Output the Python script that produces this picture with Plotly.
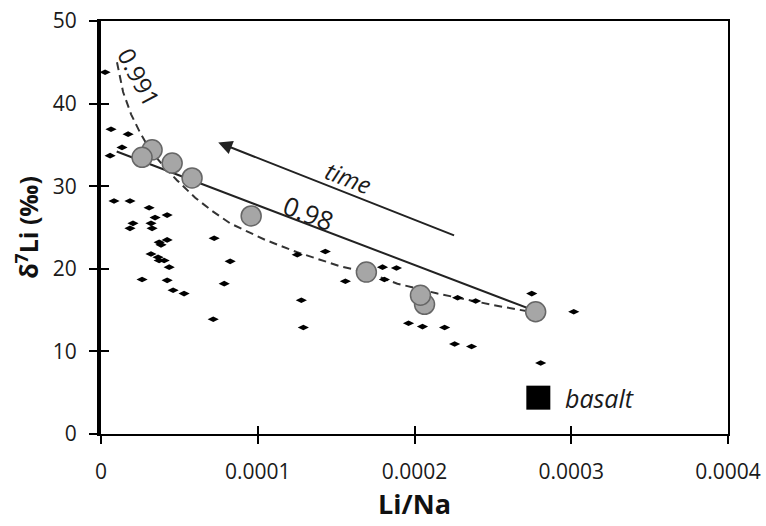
import plotly.graph_objects as go

# Small black data points (Li/Na, d7Li)
pts_x = [2.6e-6, 6.4e-6, 1.73e-5, 1.34e-5, 5.8e-6, 8.3e-6, 1.85e-5, 3.07e-5, 3.45e-5, 4.22e-5,
         2.04e-5, 1.85e-5, 3.19e-5, 3.26e-5, 3.71e-5, 3.83e-5, 4.22e-5, 3.19e-5, 3.64e-5, 3.71e-5,
         4.03e-5, 4.35e-5, 2.62e-5, 4.22e-5, 4.60e-5, 5.30e-5, 7.22e-5, 8.24e-5, 7.86e-5, 7.16e-5,
         1.252e-4, 1.431e-4, 1.559e-4, 1.278e-4, 1.291e-4, 1.796e-4, 1.885e-4, 1.808e-4, 2.275e-4,
         2.39e-4, 2.748e-4, 3.016e-4, 1.962e-4, 2.051e-4, 2.192e-4, 2.256e-4, 2.364e-4, 2.805e-4]
pts_y = [43.8, 36.9, 36.3, 34.7, 33.7, 28.2, 28.2, 27.4, 26.2, 26.5,
         25.5, 24.9, 25.5, 24.9, 23.2, 22.9, 23.5, 21.8, 21.4, 21.0,
         21.0, 20.2, 18.7, 18.6, 17.4, 17.0, 23.7, 20.9, 18.2, 13.9,
         21.7, 22.1, 18.5, 16.2, 12.9, 20.2, 20.1, 18.7, 16.5,
         16.1, 17.0, 14.8, 13.4, 13.0, 12.9, 10.9, 10.6, 8.6]

# Grey circles (time series samples)
circ_x = [3.26e-5, 2.62e-5, 4.54e-5, 5.81e-5, 9.58e-5, 1.693e-4, 2.064e-4, 2.038e-4, 2.773e-4]
circ_y = [34.4, 33.5, 32.8, 31.0, 26.4, 19.6, 15.7, 16.8, 14.8]

# Dashed fractionation curve (0.991)
dash_x = [1.02e-5, 1.41e-5, 1.92e-5, 2.49e-5, 3.13e-5, 4.09e-5, 4.86e-5, 6.01e-5, 7.09e-5,
          8.24e-5, 1.048e-4, 1.252e-4, 1.527e-4, 1.693e-4, 1.891e-4, 2.147e-4, 2.505e-4, 2.767e-4]
dash_y = [45.0, 41.4, 38.7, 36.5, 34.4, 32.2, 30.7, 28.6, 27.0,
          25.5, 23.5, 22.0, 20.3, 19.6, 18.2, 17.0, 15.6, 14.7]

# Solid curve (0.98)
solid_x = [1.0e-5, 2.77e-4]
solid_y = [34.2, 14.9]

# Basalt
basalt_x = [2.79e-4]
basalt_y = [4.4]

x_ticks = [0, 0.0001, 0.0002, 0.0003, 0.0004]
x_ticklabels = ["0", "0.0001", "0.0002", "0.0003", "0.0004"]
y_ticks = [0, 10, 20, 30, 40, 50]

FONT = "Open Sans"
TXT = "#1a1a1a"

fig = go.Figure()
fig.add_trace(go.Scatter(x=dash_x, y=dash_y, mode="lines",
                         line=dict(color="#333333", width=2, dash="8px,5px"),
                         showlegend=False, hoverinfo="skip"))
fig.add_trace(go.Scatter(x=solid_x, y=solid_y, mode="lines",
                         line=dict(color="#222222", width=2),
                         showlegend=False, hoverinfo="skip"))
fig.add_trace(go.Scatter(x=pts_x, y=pts_y, mode="markers",
                         marker=dict(symbol="diamond-wide", size=8, color="black"),
                         showlegend=False))
fig.add_trace(go.Scatter(x=circ_x, y=circ_y, mode="markers",
                         marker=dict(symbol="circle", size=20, color="#a6a6a6",
                                     line=dict(color="#666666", width=1.5)),
                         showlegend=False))
fig.add_trace(go.Scatter(x=basalt_x, y=basalt_y, mode="markers",
                         marker=dict(symbol="square", size=24, color="black"),
                         showlegend=False))

# Arrow "time"
fig.add_annotation(x=7.48e-5, y=35.3, ax=2.262e-4, ay=23.97, xref="x", yref="y",
                   axref="x", ayref="y", text="", showarrow=True,
                   arrowhead=2, arrowsize=1.4, arrowwidth=2, arrowcolor="#222222")
fig.add_annotation(x=1.578e-4, y=31.0, text="<i>time</i>", showarrow=False,
                   textangle=21, font=dict(family=FONT, size=24, color=TXT))
fig.add_annotation(x=1.323e-4, y=26.8, text="0.98", showarrow=False,
                   textangle=21, font=dict(family=FONT, size=26, color=TXT))
fig.add_annotation(x=2.43e-5, y=43.3, text="0.991", showarrow=False,
                   textangle=62, font=dict(family=FONT, size=24, color=TXT))
fig.add_annotation(x=2.95e-4, y=4.3, text="<i>basalt</i>", showarrow=False,
                   xanchor="left", font=dict(family=FONT, size=25, color=TXT))

fig.update_layout(
    width=766, height=526,
    margin=dict(l=101, r=38, t=21, b=92),
    paper_bgcolor="white", plot_bgcolor="white",
    font=dict(family=FONT, size=21, color=TXT),
    xaxis=dict(range=[0, 0.0004], tickvals=x_ticks, ticktext=x_ticklabels,
               showgrid=False, zeroline=False, showline=True, linewidth=2,
               linecolor="black", mirror=True, ticks="outside", ticklen=8,
               tickwidth=2, tickcolor="black", ticklabelstandoff=10, automargin=False,
               tickfont=dict(family=FONT, size=21, color=TXT),
               title=dict(text="<b>Li/Na</b>", font=dict(family=FONT, size=27, color="#111111"),
                          standoff=8)),
    yaxis=dict(range=[0, 50], tickvals=y_ticks, showgrid=False, zeroline=False,
               showline=True, linewidth=4, linecolor="black", ticks="outside",
               ticklen=8, tickwidth=2, tickcolor="black", ticklabelstandoff=8,
               automargin=False, tickfont=dict(family=FONT, size=21, color=TXT),
               title=dict(text="<b>δ<sup>7</sup>Li (‰)</b>",
                          font=dict(family=FONT, size=25, color="#111111"), standoff=8)),
    xaxis2=dict(range=[0, 0.0004], tickvals=x_ticks, overlaying="x", anchor="y",
                side="bottom", showticklabels=False, showgrid=False, zeroline=False,
                ticks="inside", ticklen=8, tickwidth=2, tickcolor="black", automargin=False),
    yaxis2=dict(range=[0, 50], tickvals=y_ticks, overlaying="y", anchor="x",
                side="left", showticklabels=False, showgrid=False, zeroline=False,
                ticks="inside", ticklen=8, tickwidth=2, tickcolor="black", automargin=False),
    yaxis3=dict(range=[0, 50], overlaying="y", anchor="x", side="right",
                showticklabels=False, showgrid=False, zeroline=False, automargin=False,
                showline=True, linewidth=2, linecolor="black", ticks=""),
)
# invisible traces so the overlay axes render
fig.add_trace(go.Scatter(x=[None], y=[None], xaxis="x2", yaxis="y2", showlegend=False))
fig.add_trace(go.Scatter(x=[None], y=[None], xaxis="x", yaxis="y3", showlegend=False))

fig.write_html("out.html", config={"displayModeBar": False})

# remove the default browser page margin so the figure sits at the window origin
with open("out.html", "r", encoding="utf-8") as f:
    html = f.read()
html = html.replace("<head>", "<head><style>html,body{margin:0;padding:0;overflow:hidden;}</style>", 1)
with open("out.html", "w", encoding="utf-8") as f:
    f.write(html)
